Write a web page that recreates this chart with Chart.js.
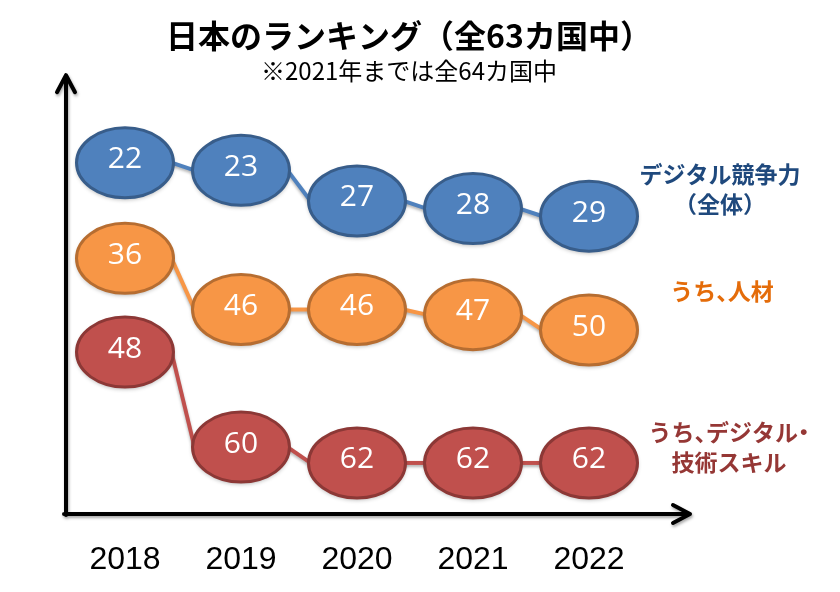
<!DOCTYPE html>
<html lang="ja">
<head>
<meta charset="utf-8">
<title>日本のランキング</title>
<script src="https://cdn.jsdelivr.net/npm/chart.js@4/dist/chart.umd.min.js"></script>
<style>
  html, body { margin: 0; padding: 0; background: #fff; }
  #chart { display: block; }
</style>
</head>
<body>
<canvas id="chart" width="840" height="592"></canvas>
<script>
const years = ['2018', '2019', '2020', '2021', '2022']
const overallRank = [22, 23, 27, 28, 29]
const talentRank = [36, 46, 46, 47, 50]
const skillRank = [48, 60, 62, 62, 62]

const overallName = ['デジタル競争力', '（全体）']
const talentName = ['うち、人材']
const skillName = ['うち、デジタル・', '技術スキル']

const titleText = '日本のランキング（全63カ国中）'
const subtitleText = '※2021年までは全64カ国中'

const JP = '"Noto Sans CJK JP", "Noto Sans", sans-serif'
const RX = 48.5 // полуоси эллипса
const RY = 35

// рисует строку, где скобки и знаки препинания занимают пол-ширины (как palt)
function drawTightText(ctx, text, cx, y) {
  const half = '、・（）'
  const parts = [...text].map(ch => {
    const w = ctx.measureText(ch).width
    return { ch, w, adv: half.includes(ch) ? w / 2 : w }
  })
  const total = parts.reduce((s, p) => s + p.adv, 0)
  let x = cx - total / 2
  ctx.textAlign = 'left'
  parts.forEach(p => {
    let dx = 0
    if (p.ch === '（') dx = -p.w / 2
    if (p.ch === '・') dx = -p.w / 4
    ctx.fillText(p.ch, x + dx, y)
    x += p.adv
  })
}

const axesPlugin = {
  id: 'arrowAxes',
  beforeDatasetsDraw(chart) {
    const { ctx, chartArea } = chart
    const x0 = chartArea.left - 1
    const y0 = chartArea.bottom
    const topY = chartArea.top - 10
    const rightX = chartArea.right + 43
    ctx.save()
    ctx.strokeStyle = '#000'
    ctx.lineWidth = 4
    ctx.lineCap = 'round'
    ctx.lineJoin = 'round'
    ctx.shadowColor = 'rgba(0,0,0,0.35)'
    ctx.shadowBlur = 3
    ctx.shadowOffsetX = 1
    ctx.shadowOffsetY = 2
    ctx.beginPath()
    ctx.moveTo(x0, y0 + 1)
    ctx.lineTo(x0, topY)
    ctx.moveTo(x0 - 9, topY + 17)
    ctx.lineTo(x0, topY)
    ctx.lineTo(x0 + 9, topY + 17)
    ctx.moveTo(x0 - 2, y0)
    ctx.lineTo(rightX, y0)
    ctx.moveTo(rightX - 17, y0 - 9)
    ctx.lineTo(rightX, y0)
    ctx.lineTo(rightX - 17, y0 + 9)
    ctx.stroke()
    ctx.restore()
  }
}

const bubblePlugin = {
  id: 'bubbles',
  afterDatasetsDraw(chart) {
    const { ctx } = chart
    chart.data.datasets.forEach((ds, di) => {
      const pts = chart.getDatasetMeta(di).data
      ctx.save()
      // соединительные линии: от правого края к левому краю следующего
      ctx.strokeStyle = ds.backgroundColor
      ctx.lineWidth = 4
      ctx.shadowColor = 'rgba(0,0,0,0.3)'
      ctx.shadowBlur = 3
      ctx.shadowOffsetY = 2
      for (let i = 0; i < pts.length - 1; i++) {
        ctx.beginPath()
        ctx.moveTo(pts[i].x + RX - 2, pts[i].y)
        ctx.lineTo(pts[i + 1].x - RX + 2, pts[i + 1].y)
        ctx.stroke()
      }
      pts.forEach((p, i) => {
        ctx.shadowColor = 'rgba(0,0,0,0.3)'
        ctx.shadowBlur = 4
        ctx.shadowOffsetY = 2
        ctx.beginPath()
        ctx.ellipse(p.x, p.y, RX, RY, 0, 0, Math.PI * 2)
        ctx.fillStyle = ds.backgroundColor
        ctx.fill()
        ctx.shadowColor = 'transparent'
        ctx.lineWidth = 3
        ctx.strokeStyle = ds.borderColor
        ctx.stroke()
        ctx.fillStyle = '#fff'
        ctx.font = '30px "Open Sans", sans-serif'
        ctx.textAlign = 'center'
        ctx.textBaseline = 'middle'
        ctx.fillText(String(ds.data[i]), p.x, p.y - 3)
      })
      // подпись серии справа
      ctx.fillStyle = ds.nameColor
      ctx.font = 'bold 23px ' + JP
      ctx.textBaseline = 'middle'
      ds.nameLines.forEach((line, li) => {
        drawTightText(ctx, line, ds.nameX, ds.nameY + li * 30)
      })
      ctx.restore()
    })
  }
}

const hiddenAxis = {
  reverse: true,
  ticks: { display: false },
  grid: { display: false },
  border: { display: false }
}

new Chart(document.getElementById('chart'), {
  type: 'line',
  data: {
    labels: years,
    datasets: [
      {
        label: overallName.join(''),
        data: overallRank,
        yAxisID: 'yOverall',
        backgroundColor: '#4F81BD',
        borderColor: '#385D8A',
        nameColor: '#1F497D',
        nameLines: overallName,
        nameX: 720,
        nameY: 174
      },
      {
        label: talentName.join(''),
        data: talentRank,
        yAxisID: 'yTalent',
        backgroundColor: '#F79646',
        borderColor: '#B66D31',
        nameColor: '#E46C0A',
        nameLines: talentName,
        nameX: 722,
        nameY: 291
      },
      {
        label: skillName.join(''),
        data: skillRank,
        yAxisID: 'ySkill',
        backgroundColor: '#C0504D',
        borderColor: '#8C3836',
        nameColor: '#953735',
        nameLines: skillName,
        nameX: 729,
        nameY: 432
      }
    ]
  },
  options: {
    responsive: false,
    animation: false,
    events: [],
    showLine: false,
    clip: false,
    elements: { point: { radius: 0, hoverRadius: 0 } },
    layout: { padding: { left: 0, right: 22, top: 0, bottom: 0 } },
    plugins: {
      legend: { display: false },
      tooltip: { enabled: false },
      title: {
        display: true,
        text: titleText,
        color: '#000',
        font: { family: JP, size: 32, weight: 'bold', lineHeight: 1.2 },
        padding: { top: 17, bottom: 1 }
      },
      subtitle: {
        display: true,
        text: subtitleText,
        color: '#000',
        font: { family: JP, size: 24, weight: 'normal', lineHeight: 1.2 },
        padding: { top: 0, bottom: 0 }
      }
    },
    scales: {
      x: {
        type: 'category',
        offset: true,
        grid: { display: false },
        border: { display: false },
        ticks: {
          color: '#000',
          font: { family: '"Liberation Sans", Arial, sans-serif', size: 32 },
          padding: 19,
          maxRotation: 0,
          autoSkip: false
        },
        afterFit(scale) { scale.height = 78 }
      },
      yOverall: {
        ...hiddenAxis,
        position: 'left',
        min: 11.87,
        max: 67.92,
        afterFit(scale) { scale.width = 67 }
      },
      yTalent: {
        ...hiddenAxis,
        position: 'right',
        min: 2.15,
        max: 85.97,
        afterFit(scale) { scale.width = 171 }
      },
      ySkill: {
        ...hiddenAxis,
        display: false,
        min: 14.28,
        max: 68.45
      }
    }
  },
  plugins: [axesPlugin, bubblePlugin]
})
</script>
</body>
</html>
